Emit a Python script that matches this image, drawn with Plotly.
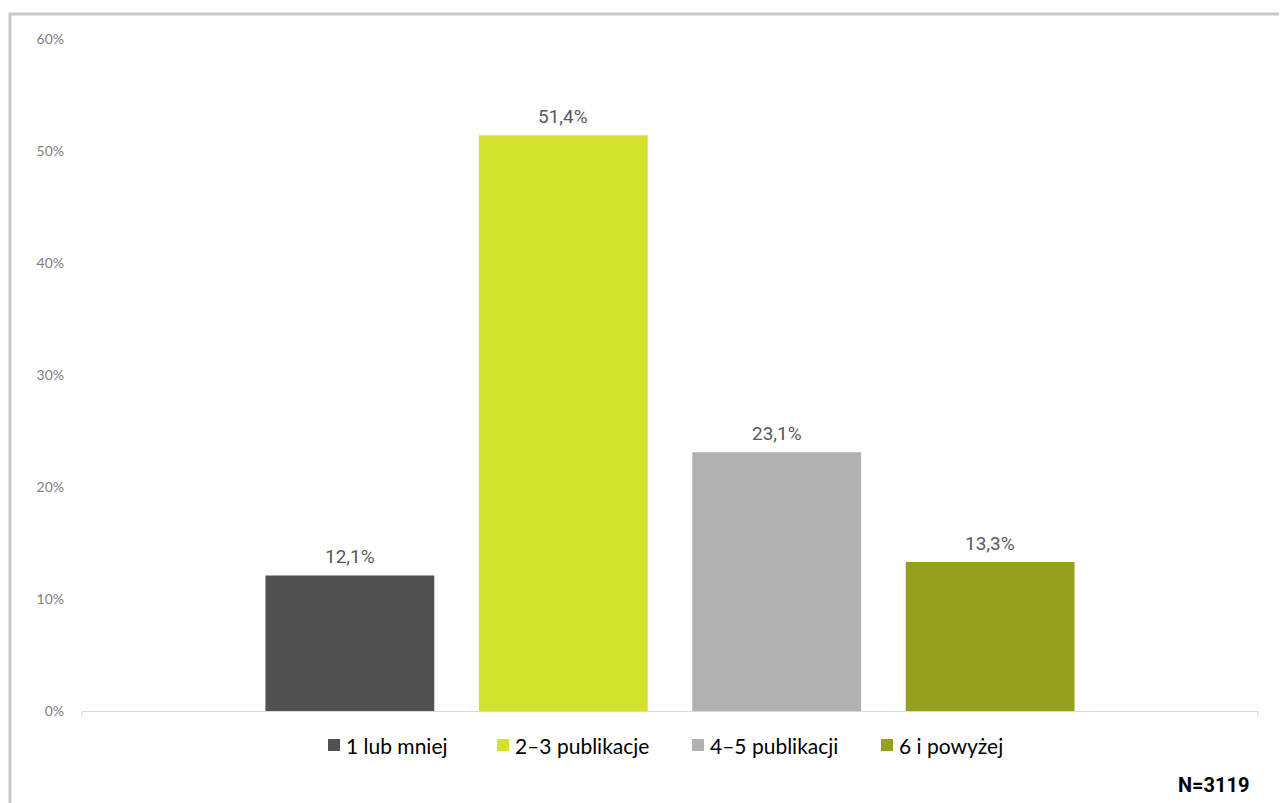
import plotly.graph_objects as go

categories = ["1 lub mniej", "2–3 publikacje", "4–5 publikacji", "6 i powyżej"]
values = [12.1, 51.4, 23.1, 13.3]
labels = ["12,1%", "51,4%", "23,1%", "13,3%"]
colors = ["#505153", "#d2e22b", "#b1b1b3", "#96a01e"]
y_ticks = [0, 10, 20, 30, 40, 50, 60]
y_tick_text = ["0%", "10%", "20%", "30%", "40%", "50%", "60%"]
note = "N=3119"

# page geometry (the html body has an 8px margin)
W, H = 1287, 803
OFF = 8
PL, PR, PT, PB = 82, 1258, 39, 711          # plot area in screen pixels
L, R, T, B = PL - OFF, W - (PR - OFF), PT - OFF, H - (PB - OFF)
pw, ph = PR - PL, PB - PT


def px(x):
    return (x - PL) / pw


def py(y):
    return (PB - y) / ph


# legend layout (screen pixels)
legend_marker_left = [328, 497, 692, 881]
legend_y = 745
marker_size = 12

fig = go.Figure()
for cat, val, col in zip(categories, values, colors):
    fig.add_trace(go.Bar(
        x=[cat], y=[val], name=cat,
        marker=dict(color=col, line=dict(width=0)),
        hoverinfo="skip", showlegend=False,
    ))

for cat, val, lab in zip(categories, values, labels):
    fig.add_annotation(
        x=cat, y=val, text=lab, showarrow=False,
        yanchor="bottom", yshift=5,
        font=dict(family="Roboto", size=19, color="#595959"),
    )

# manual legend
for cat, col, mx in zip(categories, colors, legend_marker_left):
    fig.add_shape(
        type="rect", xref="paper", yref="paper",
        x0=px(mx), x1=px(mx + marker_size),
        y0=py(legend_y + marker_size / 2), y1=py(legend_y - marker_size / 2),
        fillcolor=col, line=dict(width=0),
    )
    fig.add_annotation(
        xref="paper", yref="paper", x=px(mx + marker_size + 4), y=py(legend_y),
        xanchor="left", yanchor="middle", text=cat, showarrow=False,
        font=dict(family="Lato", size=21, color="#000000"),
    )

fig.add_annotation(
    xref="paper", yref="paper", x=px(1251), y=py(785),
    xanchor="right", yanchor="middle", text="<b>" + note + "</b>", showarrow=False,
    font=dict(family="Roboto", size=20, color="#000000"),
)

# outer frame
fig.add_shape(
    type="rect", xref="paper", yref="paper",
    x0=px(10), x1=px(1320), y0=py(830), y1=py(14),
    line=dict(color="#c8c8c8", width=3), fillcolor="rgba(0,0,0,0)", layer="below",
)

# end tick marks on the category axis
for xe in (0, 1):
    fig.add_shape(
        type="line", xref="paper", yref="paper",
        x0=xe, x1=xe, y0=0, y1=py(PB + 6),
        line=dict(color="#d9d9d9", width=1),
    )

fig.update_layout(
    width=W, height=H,
    margin=dict(l=L, r=R, t=T, b=B, pad=0),
    paper_bgcolor="white", plot_bgcolor="white",
    barmode="overlay", bargap=0.209,
    showlegend=False,
    xaxis=dict(
        type="category", categoryorder="array", categoryarray=categories,
        range=[-1.255, 4.255], showticklabels=False, showgrid=False,
        showline=True, linecolor="#d9d9d9", linewidth=1, ticks="", zeroline=False,
    ),
    yaxis=dict(
        range=[0, 60], tickvals=y_ticks, ticktext=y_tick_text,
        showgrid=False, zeroline=False, showline=False, ticks="",
        tickfont=dict(family="Lato", size=14, color="#808080"),
        ticklabelstandoff=17,
    ),
    font=dict(family="Lato"),
)

fig.write_html("out.html")
